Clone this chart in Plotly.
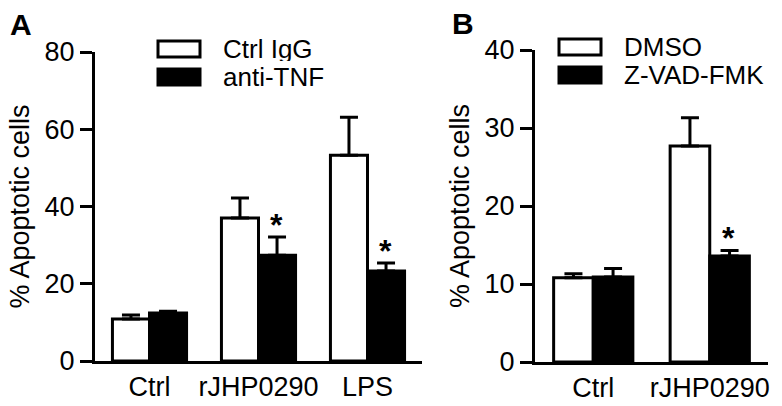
import plotly.graph_objects as go

FONT = "Liberation Sans, Arial, sans-serif"

# Panel A data
cats_a = ["Ctrl", "rJHP0290", "LPS"]
ctrl_igg = [10.9, 37.0, 53.3]
ctrl_igg_err = [1.0, 5.2, 9.8]
anti_tnf = [12.4, 27.4, 23.3]
anti_tnf_err = [0.5, 4.7, 2.1]
sig_a = ["rJHP0290", "LPS"]

# Panel B data
cats_b = ["Ctrl", "rJHP0290"]
dmso = [10.8, 27.7]
dmso_err = [0.5, 3.6]
zvad = [10.9, 13.6]
zvad_err = [1.1, 0.7]
sig_b = ["rJHP0290"]

yticks_a = [0, 20, 40, 60, 80]
yticks_b = [0, 10, 20, 30, 40]

FS = 27
LEG_FS = 26

fig = go.Figure()

def add_bar(name, x, y, err, fill, xa, ya):
    fig.add_trace(go.Bar(
        name=name, x=x, y=y, xaxis=xa, yaxis=ya,
        marker=dict(color=fill, line=dict(color="black", width=3)),
        error_y=dict(type="data", array=err, arrayminus=[0] * len(err),
                     symmetric=False, color="black", thickness=3, width=9),
        offsetgroup=name, showlegend=False,
    ))

add_bar("Ctrl IgG", cats_a, ctrl_igg, ctrl_igg_err, "white", "x", "y")
add_bar("anti-TNF", cats_a, anti_tnf, anti_tnf_err, "black", "x", "y")
add_bar("DMSO", cats_b, dmso, dmso_err, "white", "x2", "y2")
add_bar("Z-VAD-FMK", cats_b, zvad, zvad_err, "black", "x2", "y2")

annotations = []
# significance stars
for c in sig_a:
    i = cats_a.index(c)
    annotations.append(dict(x=c, y=anti_tnf[i] + anti_tnf_err[i], xref="x", yref="y",
                            text="<b>*</b>", showarrow=False, xshift=18,
                            yanchor="bottom", yshift=-8,
                            font=dict(size=32, color="black", family=FONT)))
for c in sig_b:
    i = cats_b.index(c)
    annotations.append(dict(x=c, y=zvad[i] + zvad_err[i], xref="x2", yref="y2",
                            text="<b>*</b>", showarrow=False, xshift=19,
                            yanchor="bottom", yshift=-8,
                            font=dict(size=32, color="black", family=FONT)))

# panel letters
annotations.append(dict(x=8 / 782, y=1 - 6 / 406, xref="paper", yref="paper", text="<b>A</b>",
                        showarrow=False, xanchor="left", yanchor="top",
                        font=dict(size=30, color="black", family=FONT)))
annotations.append(dict(x=450 / 782, y=1 - 5 / 406, xref="paper", yref="paper", text="<b>B</b>",
                        showarrow=False, xanchor="left", yanchor="top",
                        font=dict(size=30, color="black", family=FONT)))

# manual legends
shapes = []
def legend(x0, y_top, labels, fills):
    for k, (lab, fill) in enumerate(zip(labels, fills)):
        yc = y_top + k * 28
        shapes.append(dict(type="rect", xref="paper", yref="paper",
                           x0=x0 / 782, x1=(x0 + 42) / 782,
                           y0=1 - (yc + 8) / 406, y1=1 - (yc - 8) / 406,
                           line=dict(color="black", width=3), fillcolor=fill))
        annotations.append(dict(x=(x0 + 63) / 782, y=1 - yc / 406, xref="paper", yref="paper",
                                text=lab, showarrow=False, xanchor="left", yanchor="middle",
                                height=24, valign="middle",
                                font=dict(size=LEG_FS, color="black", family=FONT)))

legend(158, 49, ["Ctrl IgG", "anti-TNF"], ["white", "black"])
legend(559, 47, ["DMSO", "Z-VAD-FMK"], ["white", "black"])

axis_common = dict(showline=True, linecolor="black", linewidth=3, showgrid=False,
                   zeroline=False, automargin=False,
                   tickfont=dict(size=FS, color="black", family=FONT))

fig.update_layout(
    width=782, height=406, margin=dict(l=0, r=0, t=0, b=0),
    paper_bgcolor="white", plot_bgcolor="white",
    barmode="group", bargap=0.32, bargroupgap=0,
    showlegend=False,
    font=dict(family=FONT, color="black"),
    xaxis=dict(domain=[95 / 782, 422 / 782], anchor="y", range=[-0.5, 2.5],
               ticks="", ticklabelstandoff=0, **axis_common),
    yaxis=dict(domain=[1 - 361 / 406, 1 - 52 / 406], anchor="x", range=[0, 80],
               tickvals=yticks_a, ticks="outside", ticklen=12, tickwidth=3,
               tickcolor="black",
               title=dict(text="% Apoptotic cells", font=dict(size=FS, color="black", family=FONT),
                          standoff=8),
               **axis_common),
    xaxis2=dict(domain=[535 / 782, 768 / 782], anchor="y2", range=[-0.5, 1.5],
                ticks="", ticklabelstandoff=0, **axis_common),
    yaxis2=dict(domain=[1 - 362 / 406, 1 - 50 / 406], anchor="x2", range=[0, 40],
                tickvals=yticks_b, ticks="outside", ticklen=12, tickwidth=3,
                tickcolor="black",
                title=dict(text="% Apoptotic cells", font=dict(size=FS, color="black", family=FONT),
                           standoff=8),
                **axis_common),
    annotations=annotations, shapes=shapes,
)

fig.write_html("out.html", config={"displayModeBar": False},
               post_script="document.body.style.margin='0';")
